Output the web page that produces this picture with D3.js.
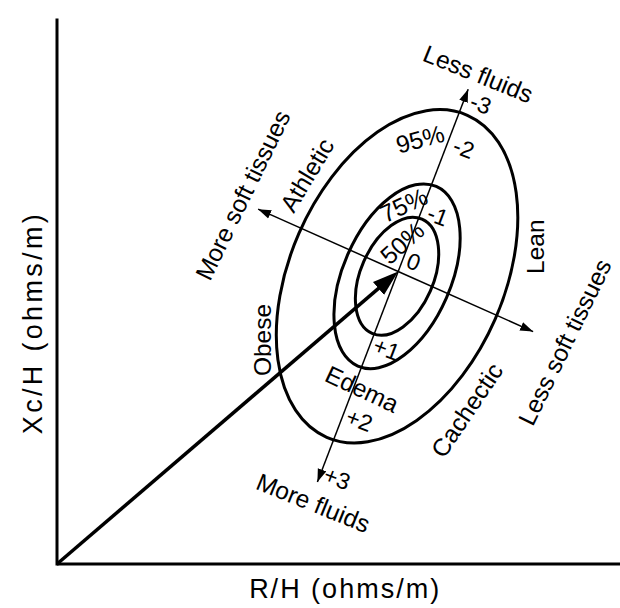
<!DOCTYPE html>
<html><head><meta charset="utf-8">
<script src="https://cdn.jsdelivr.net/npm/d3@7"></script>
<style>
body{margin:0;background:#fff}
text{font-family:"Liberation Sans",Arial,Helvetica,sans-serif;fill:#000}
</style>
</head><body>
<svg id="chart" width="620" height="608"></svg>
<script>
// ---------------- DATA ----------------
const axisTitles = ["R/H (ohms/m)", "Xc/H (ohms/m)"];
// mean impedance vector tip (chart units R/H, Xc/H)
const vectorTip = [60.6, 55.5];
// centre of the tolerance ellipses (chart units)
const ellipseCentre = [60.4, 54.6];
const ellipseLabels = ["50%", "75%", "95%"];
const ellipseSemiMajor = [0.89, 1.40, 2.51];   // z units along major axis
const ellipseSemiMinor = [0.52, 0.77, 1.53];   // z units along minor axis
const ellipseTiltDeg = 23.6;
// major (fluid) axis ticks
const majorTicks = [-3, -2, -1, 0, 1, 2, 3];
const majorTickLabels = ["-3", "-2", "-1", "0", "+1", "+2", "+3"];
const majorAxisRange = [-2.79, 3.22];   // z units: less fluids (-) .. more fluids (+)
const minorAxisRange = [-2.19, 2.11];   // z units: more soft tissues (-) .. less soft tissues (+)
const majorTiltDeg = 21;
const minorTiltDeg = 24;
const directionLabels = ["Less fluids", "More fluids", "More soft tissues", "Less soft tissues"];
const regionLabels = ["Athletic", "Lean", "Obese", "Cachectic", "Edema"];

// ---------------- SCALES ----------------
const svg = d3.select("#chart");
const x = d3.scaleLinear().domain([0, 100]).range([57, 620]);
const y = d3.scaleLinear().domain([0, 100]).range([564, 37]);
const z = d3.scaleLinear().domain([0, 1]).range([0, 70]); // px per z unit

const rad = d => d * Math.PI / 180;
const cx = x(vectorTip[0]), cy = y(vectorTip[1]);
const uMaj = [-Math.sin(rad(majorTiltDeg)), Math.cos(rad(majorTiltDeg))];
const uMin = [Math.cos(rad(minorTiltDeg)), Math.sin(rad(minorTiltDeg))];
const onMajor = t => [cx + uMaj[0] * z(t), cy + uMaj[1] * z(t)];
const onMinor = t => [cx + uMin[0] * z(t), cy + uMin[1] * z(t)];

// markers
const defs = svg.append("defs");
defs.append("marker").attr("id", "thin").attr("markerUnits", "userSpaceOnUse")
  .attr("viewBox", "0 -5 13 10").attr("refX", 13).attr("refY", 0)
  .attr("markerWidth", 13).attr("markerHeight", 10).attr("orient", "auto")
  .append("path").attr("d", "M0,-4.5L13,0L0,4.5Z").attr("fill", "#000");
defs.append("marker").attr("id", "thick").attr("markerUnits", "userSpaceOnUse")
  .attr("viewBox", "0 -9 26 18").attr("refX", 4).attr("refY", 0)
  .attr("markerWidth", 26).attr("markerHeight", 18).attr("orient", "auto")
  .append("path").attr("d", "M0,-8.5L26,0L0,8.5Z").attr("fill", "#000");

// ---------------- AXES (frame) ----------------
svg.append("line").attr("x1", x(0)).attr("y1", y(0)).attr("x2", x(100)).attr("y2", y(0))
  .attr("stroke", "#000").attr("stroke-width", 3);
svg.append("line").attr("x1", x(0)).attr("y1", y(0) + 1.5).attr("x2", x(0)).attr("y2", y(103.5))
  .attr("stroke", "#000").attr("stroke-width", 3);

svg.append("text").attr("x", x(51)).attr("y", 598)
  .attr("text-anchor", "middle").attr("font-size", 27)
  .attr("textLength", 190).attr("lengthAdjust", "spacing").text(axisTitles[0]);
svg.append("text").attr("transform", `translate(42,${y(45.5)}) rotate(-90)`)
  .attr("text-anchor", "middle").attr("font-size", 27)
  .attr("textLength", 220).attr("lengthAdjust", "spacing").text(axisTitles[1]);

// ---------------- ELLIPSES ----------------
const ex = x(ellipseCentre[0]), ey = y(ellipseCentre[1]);
svg.append("g").selectAll("ellipse").data(ellipseLabels).join("ellipse")
  .attr("transform", `translate(${ex},${ey}) rotate(${ellipseTiltDeg})`)
  .attr("rx", (d, i) => z(ellipseSemiMinor[i]))
  .attr("ry", (d, i) => z(ellipseSemiMajor[i]))
  .attr("fill", "none").attr("stroke", "#000").attr("stroke-width", 3);

// ---------------- MAJOR / MINOR AXES ----------------
const a0 = onMajor(majorAxisRange[0]), a1 = onMajor(majorAxisRange[1]);
svg.append("line").attr("x1", cx).attr("y1", cy).attr("x2", a0[0]).attr("y2", a0[1])
  .attr("stroke", "#000").attr("stroke-width", 1.5).attr("marker-end", "url(#thin)");
svg.append("line").attr("x1", cx).attr("y1", cy).attr("x2", a1[0]).attr("y2", a1[1])
  .attr("stroke", "#000").attr("stroke-width", 1.5).attr("marker-end", "url(#thin)");
const m0 = onMinor(minorAxisRange[0]), m1 = onMinor(minorAxisRange[1]);
svg.append("line").attr("x1", cx).attr("y1", cy).attr("x2", m0[0]).attr("y2", m0[1])
  .attr("stroke", "#000").attr("stroke-width", 1.5).attr("marker-end", "url(#thin)");
svg.append("line").attr("x1", cx).attr("y1", cy).attr("x2", m1[0]).attr("y2", m1[1])
  .attr("stroke", "#000").attr("stroke-width", 1.5).attr("marker-end", "url(#thin)");

// tick labels along the major axis (placed beside the axis line)
const perp = [Math.cos(rad(majorTiltDeg)), Math.sin(rad(majorTiltDeg))];
const tickNudge = { "-3": 0.34, "-2": 0.02, "-1": 0.05, "0": -0.21, "1": 0.09, "2": 0.18, "3": 0.07 };
svg.append("g").selectAll("text").data(majorTicks).join("text")
  .attr("transform", t => {
    const p = onMajor(t + tickNudge[t]);
    const off = t === 0 ? 11 : 17;
    return `translate(${p[0] + perp[0] * off},${p[1] + perp[1] * off}) rotate(${majorTiltDeg})`;
  })
  .attr("text-anchor", "middle").attr("dy", "0.35em").attr("font-size", 23)
  .text((t, i) => majorTickLabels[i]);

// ---------------- VECTOR ----------------
const vTip = [cx, cy];
const len = Math.hypot(vTip[0] - x(0), vTip[1] - y(0));
const dirV = [(vTip[0] - x(0)) / len, (vTip[1] - y(0)) / len];
svg.append("line").attr("x1", x(0)).attr("y1", y(0))
  .attr("x2", vTip[0] - dirV[0] * 22).attr("y2", vTip[1] - dirV[1] * 22)
  .attr("stroke", "#000").attr("stroke-width", 3.5).attr("marker-end", "url(#thick)");

// ---------------- ANNOTATIONS ----------------
function label(txt, dx, dy, rot, size) {
  svg.append("text")
    .attr("transform", `translate(${x(dx)},${y(dy)}) rotate(${rot})`)
    .attr("text-anchor", "middle").attr("dy", "0.35em")
    .attr("font-size", size || 24.5).text(txt);
}
label(directionLabels[0], 74.8, 93.0, 22);
label(directionLabels[1], 45.5, 11.6, 22);
label(directionLabels[2], 33.0, 70.0, -64);
label(directionLabels[3], 90.2, 42.1, -64);
label(regionLabels[0], 44.4, 73.8, -59);
label(regionLabels[1], 84.9, 60.2, -90);
label(regionLabels[2], 36.4, 42.5, -90);
label(regionLabels[3], 72.8, 29.2, -56);
label(regionLabels[4], 54.2, 33.2, 25);
label(ellipseLabels[2], 64.5, 80.6, -15);
label(ellipseLabels[1], 61.6, 68.1, -25);
label(ellipseLabels[0], 61.3, 60.9, -42);
</script>
</body></html>
